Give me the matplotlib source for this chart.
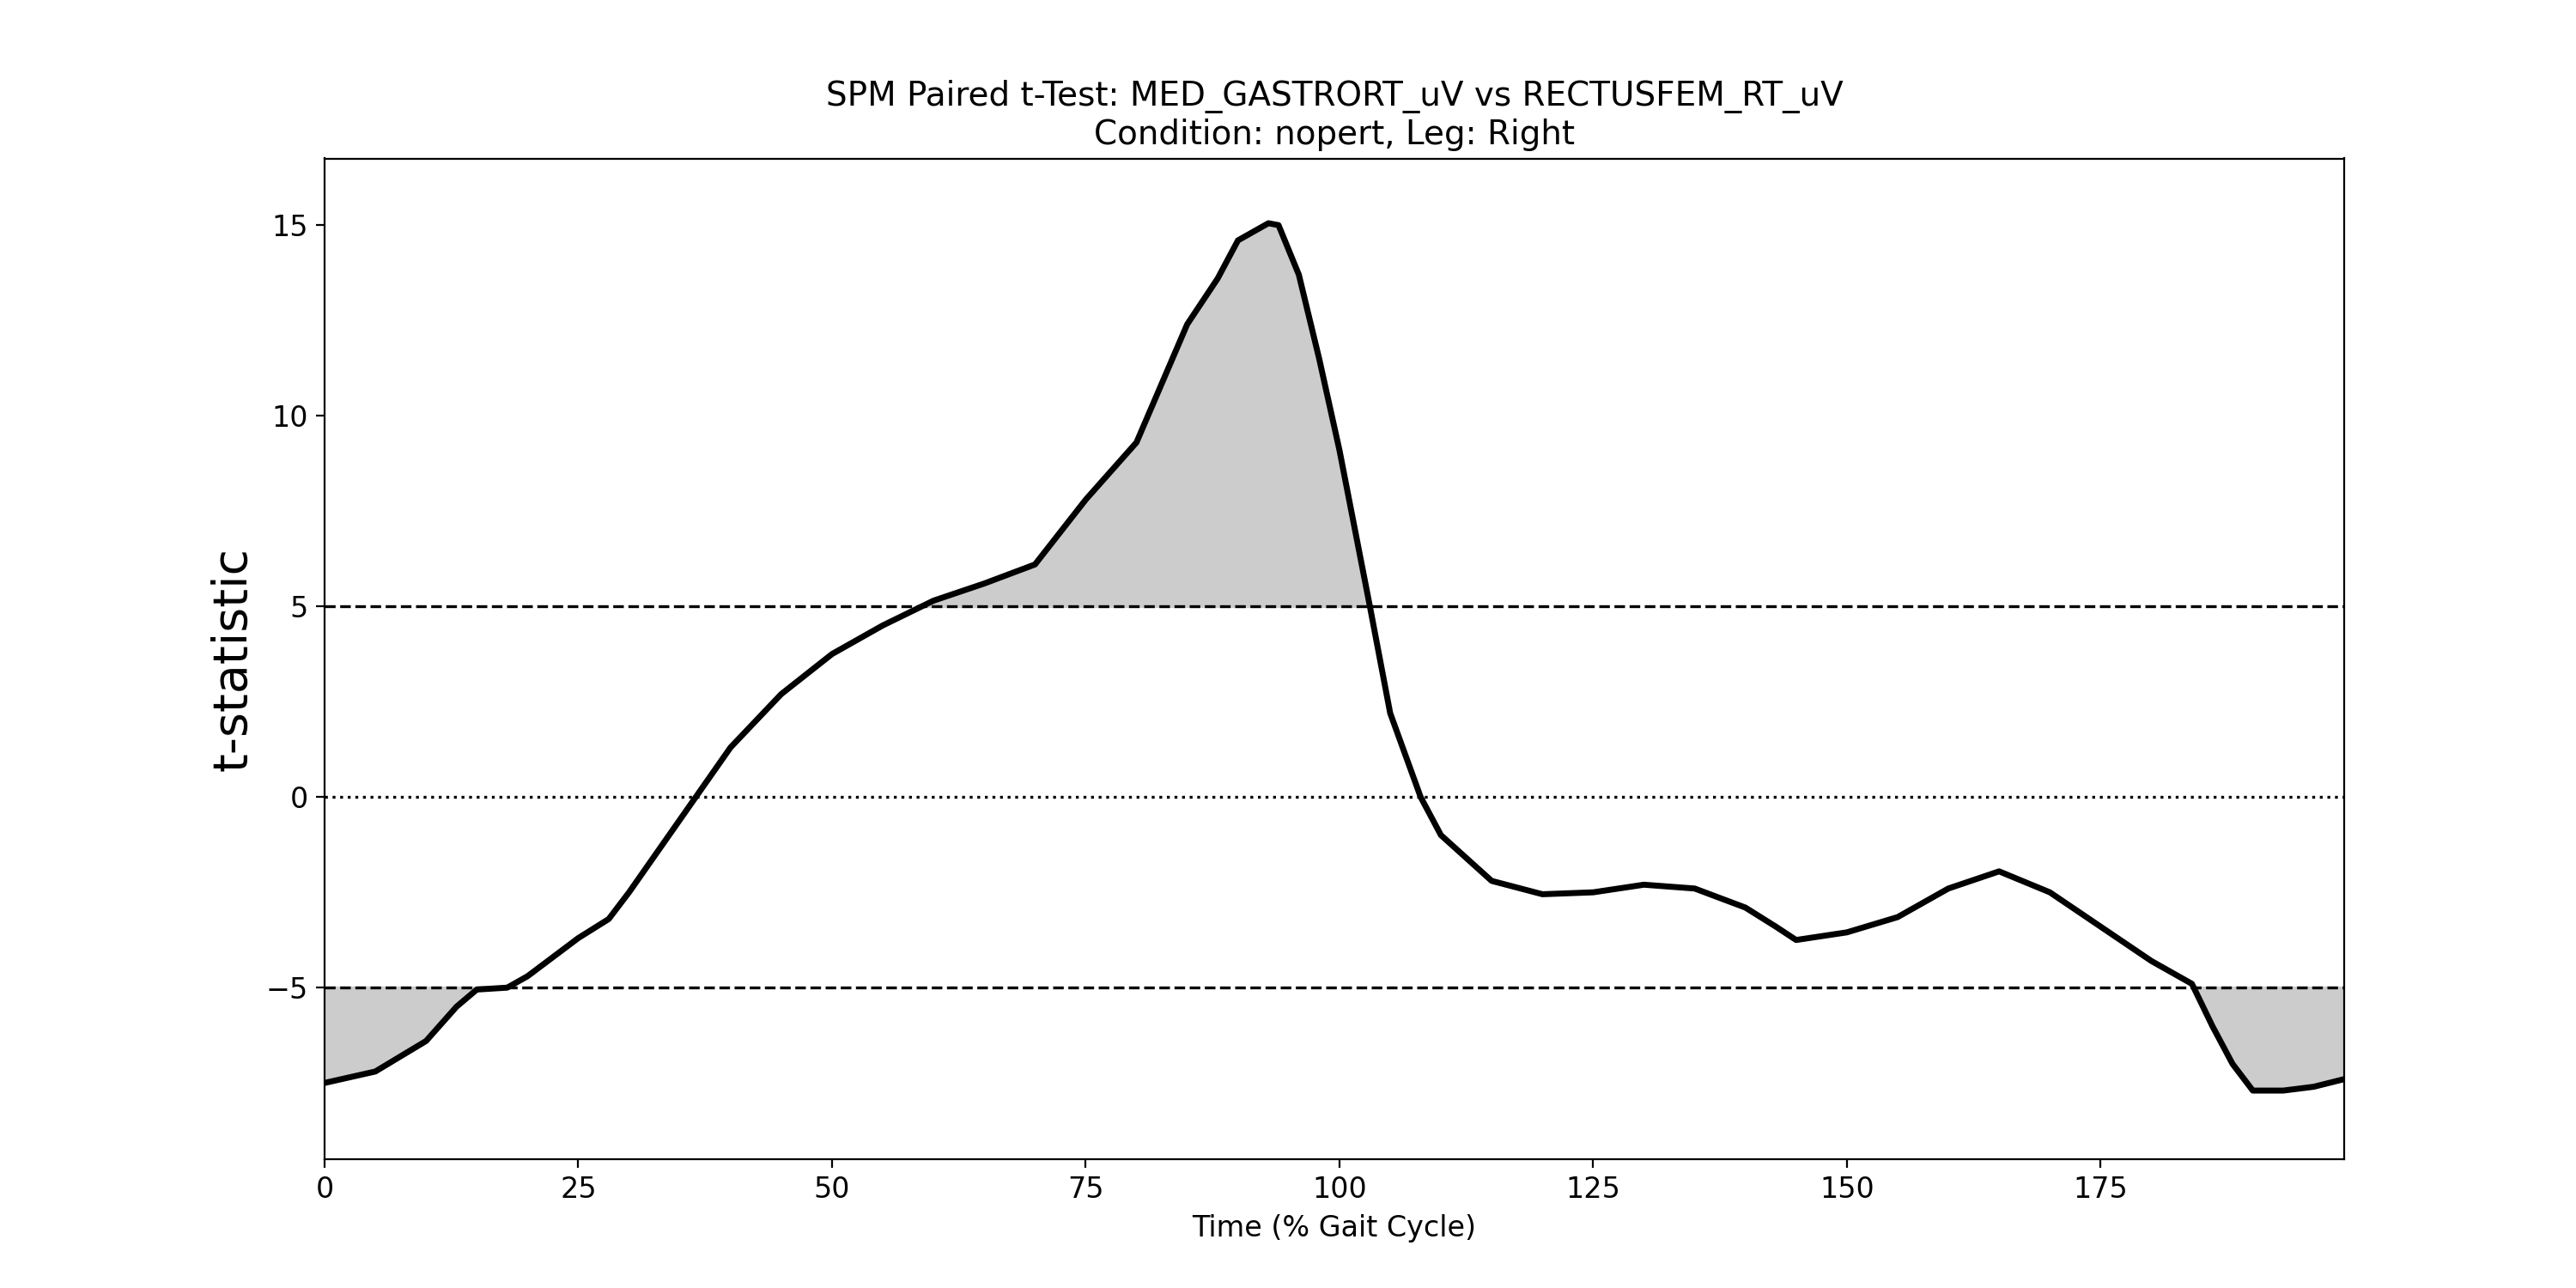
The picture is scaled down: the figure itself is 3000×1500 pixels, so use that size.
import numpy as np
import matplotlib.pyplot as plt

# values
time_pct = [0, 5, 10, 13, 15, 18, 20, 25, 28, 30, 35, 40, 45, 50, 55, 60, 65, 70,
            75, 80, 85, 88, 90, 93, 94, 96, 98, 100, 103, 105, 108, 110, 115, 120,
            125, 130, 135, 140, 143, 145, 150, 155, 160, 165, 170, 175, 180, 184,
            186, 188, 190, 193, 196, 199]
t_stat = [-7.5, -7.2, -6.4, -5.5, -5.05, -5.0, -4.7, -3.7, -3.2, -2.5, -0.6, 1.3,
          2.7, 3.75, 4.5, 5.15, 5.6, 6.1, 7.8, 9.3, 12.4, 13.6, 14.6, 15.05, 15.0,
          13.7, 11.5, 9.1, 5.0, 2.2, 0.0, -1.0, -2.2, -2.55, -2.5, -2.3, -2.4,
          -2.9, -3.4, -3.75, -3.55, -3.15, -2.4, -1.95, -2.5, -3.4, -4.3, -4.9,
          -6.0, -7.0, -7.7, -7.7, -7.6, -7.4]
thresh = 5.0

x = np.array(time_pct)
y = np.array(t_stat)

fig = plt.figure(figsize=(15, 7.5), dpi=200)
ax = fig.add_axes([0.126, 0.1, 0.784, 0.777])

ax.fill_between(x, thresh, y, where=y > thresh, interpolate=True, color='#cccccc')
ax.fill_between(x, -thresh, y, where=y < -thresh, interpolate=True, color='#cccccc')
ax.plot(x, y, color='k', lw=2.5)
ax.axhline(thresh, color='k', ls='--', lw=1.2)
ax.axhline(-thresh, color='k', ls='--', lw=1.2)
ax.axhline(0, color='k', ls=':', lw=1.2)

ax.set_xlim(0, 199)
ax.set_ylim(-9.5, 16.75)
ax.set_yticks([-5, 0, 5, 10, 15])
ax.set_xticks([0, 25, 50, 75, 100, 125, 150, 175])
ax.tick_params(labelsize=12)
ax.set_xlabel("Time (% Gait Cycle)", fontsize=12)
ax.set_ylabel("t-statistic", fontsize=20)
ax.set_title("SPM Paired t-Test: MED_GASTRORT_uV vs RECTUSFEM_RT_uV\nCondition: nopert, Leg: Right",
             fontsize=14)

fig.savefig("out.png")
